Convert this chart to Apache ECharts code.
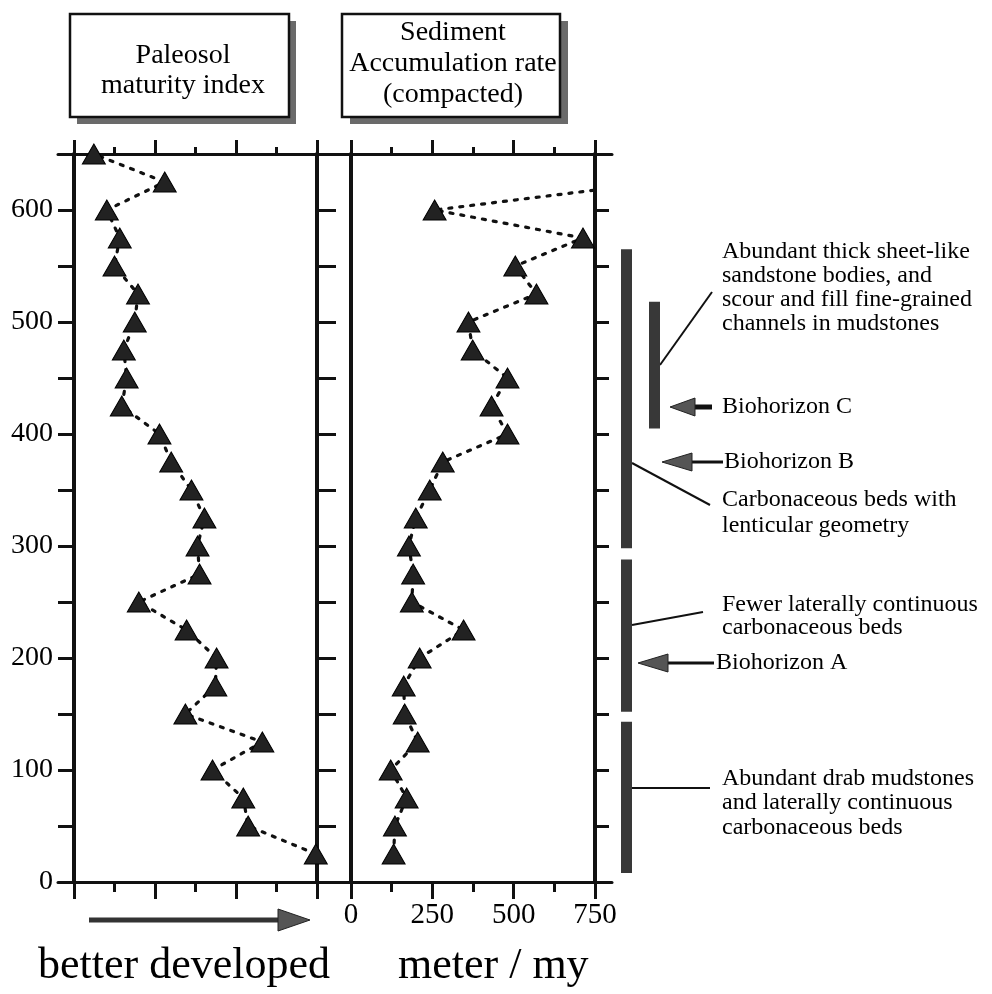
<!DOCTYPE html>
<html><head><meta charset="utf-8">
<script src="https://cdn.jsdelivr.net/npm/echarts@6/dist/echarts.min.js"></script>
<style>html,body{margin:0;padding:0;background:#fff}#c{width:992px;height:994px}</style>
</head><body><div id="c"></div>
<script>
// ---- data ----
const depthsPaleosol = [25,50,75,100,125,150,175,200,225,250,275,300,325,350,375,400,425,450,475,500,525,550,575,600,625,650];
const paleosolIndex  = [5.97,4.3,4.18,3.42,4.65,2.75,3.49,3.52,2.78,1.6,3.1,3.05,3.22,2.9,2.4,2.11,1.18,1.3,1.23,1.5,1.58,1.0,1.13,0.81,2.24,0.49];
const depthsRate = [25,50,75,100,125,150,175,200,225,250,275,300,325,350,375,400,425,450,475,500,525,550,575,600,625];
const accumulationRate = [131,135,171,122,205,165,162,211,346,187,191,178,199,242,282,481,432,481,374,361,570,505,713,257,950];
const depthTickLabels = [0,100,200,300,400,500,600];
const rateTickLabels = [0,250,500,750];
// stratigraphic column units (metres)
const unitColumn = [0,0,0,1];
const unitBase = [298,152,8,405];
const unitTop  = [565,288,143,518];

const FONT = '"Liberation Serif", "Times New Roman", serif';
const INK = '#111';

function hAxis(grid, pos, min, max, interval, majorLen, minorLen, labels){
  return {
    gridIndex: grid, type:'value', position: pos, min: min, max: max, interval: interval,
    axisLine:{show:true, onZero:false, lineStyle:{color:INK, width:3}},
    axisTick:{show:true, length:majorLen, lineStyle:{color:INK, width:3}},
    minorTick:{show:true, splitNumber:2, length:minorLen, lineStyle:{color:INK, width:3}},
    axisLabel: labels ? {show:true, color:'#000', fontFamily:FONT, fontSize:29, margin:19,
      formatter: v => rateTickLabels.includes(v) ? String(v) : ''} : {show:false},
    splitLine:{show:false}, minorSplitLine:{show:false}
  };
}
function vAxis(grid, pos, tickLen, labels){
  return {
    gridIndex: grid, type:'value', position: pos, min:0, max:650, interval:50,
    axisLine:{show:true, onZero:false, lineStyle:{color:INK, width:4}},
    axisTick:{show: tickLen > 0, length:tickLen, lineStyle:{color:INK, width:3}},
    axisLabel: labels ? {show:true, color:'#000', fontFamily:FONT, fontSize:28, margin:21,
      formatter: v => depthTickLabels.includes(v) ? String(v) : ''} : {show:false},
    splitLine:{show:false}
  };
}

const chart = echarts.init(document.getElementById('c'), null, {renderer:'canvas'});
const dotted = {color:INK, width:3.2, type:[3,8], cap:'round'};
const tri = {color:'#222', borderColor:'#000', borderWidth:1};
const TXT = '24px "Liberation Serif"';

chart.setOption({
  animation:false,
  backgroundColor:'#fff',
  grid:[
    {left:74, top:154, width:243, height:728, containLabel:false, outerBoundsMode:'none'},
    {left:351, top:154, width:244, height:728, containLabel:false, outerBoundsMode:'none'},
    {left:58, top:154, width:554, height:728, containLabel:false, outerBoundsMode:'none'},
    {left:600, top:154, width:392, height:728, containLabel:false, outerBoundsMode:'none'}
  ],
  xAxis:[
    hAxis(0,'bottom',0,6,2,17,10,false),
    hAxis(0,'top',0,6,2,14,7,false),
    hAxis(1,'bottom',0,750,250,17,10,true),
    hAxis(1,'top',0,750,250,14,7,false),
    {gridIndex:2, type:'value', position:'bottom', min:0, max:1, axisLine:{show:true,onZero:false,lineStyle:{color:INK,width:3}}, axisTick:{show:false}, axisLabel:{show:false}, splitLine:{show:false}},
    {gridIndex:2, type:'value', position:'top', min:0, max:1, axisLine:{show:true,onZero:false,lineStyle:{color:INK,width:3}}, axisTick:{show:false}, axisLabel:{show:false}, splitLine:{show:false}},
    {gridIndex:3, type:'value', min:0, max:392, show:false}
  ],
  yAxis:[
    vAxis(0,'left',16,true),
    vAxis(0,'right',19,false),
    vAxis(1,'left',0,false),
    vAxis(1,'right',14,false),
    {gridIndex:2, type:'value', min:0, max:1, show:false},
    {gridIndex:3, type:'value', min:0, max:650, show:false}
  ],
  series:[
    {type:'line', xAxisIndex:0, yAxisIndex:0, clip:false,
     data: paleosolIndex.map((v,i)=>[v, depthsPaleosol[i]]),
     symbol:'triangle', symbolSize:[23,20], itemStyle:tri, lineStyle:dotted, z:5},
    {type:'line', xAxisIndex:2, yAxisIndex:2, clip:true,
     data: accumulationRate.map((v,i)=>[v, depthsRate[i]]),
     symbol:'triangle', symbolSize:[23,20], itemStyle:tri, lineStyle:dotted, z:5},
    {type:'custom', xAxisIndex:6, yAxisIndex:5, clip:false,
     data: unitBase.map((b,i)=>[unitColumn[i], b, unitTop[i]]),
     renderItem: function(params, api){
       const col = api.value(0);
       const top = api.coord([0, api.value(2)]);
       const bot = api.coord([0, api.value(1)]);
       const x = col === 0 ? 621 : 649;
       return {type:'rect', shape:{x:x, y:top[1], width:11, height:bot[1]-top[1]}, style:{fill:'#383838'}};
     }}
  ],
  graphic:[
    // header boxes
    {type:'rect', shape:{x:77,y:21,width:219,height:103}, style:{fill:'#6a6a6a'}},
    {type:'rect', shape:{x:70,y:14,width:219,height:103}, style:{fill:'#fff', stroke:INK, lineWidth:2.5}},
    {type:'rect', shape:{x:350,y:21,width:218,height:103}, style:{fill:'#6a6a6a'}},
    {type:'rect', shape:{x:342,y:14,width:218,height:103}, style:{fill:'#fff', stroke:INK, lineWidth:2.5}},
    {type:'text', x:183, y:56, style:{text:'Paleosol', font:'28px "Liberation Serif"', fill:'#000', align:'center', verticalAlign:'middle'}},
    {type:'text', x:183, y:86, style:{text:'maturity index', font:'28px "Liberation Serif"', fill:'#000', align:'center', verticalAlign:'middle'}},
    {type:'text', x:453, y:33, style:{text:'Sediment', font:'28px "Liberation Serif"', fill:'#000', align:'center', verticalAlign:'middle'}},
    {type:'text', x:453, y:64, style:{text:'Accumulation rate', font:'28px "Liberation Serif"', fill:'#000', align:'center', verticalAlign:'middle'}},
    {type:'text', x:453, y:95, style:{text:'(compacted)', font:'28px "Liberation Serif"', fill:'#000', align:'center', verticalAlign:'middle'}},
    // bottom arrow + axis titles
    {type:'line', shape:{x1:89,y1:920,x2:282,y2:920}, style:{stroke:'#333', lineWidth:5}},
    {type:'polygon', shape:{points:[[278,909],[310,920],[278,931]]}, style:{fill:'#555', stroke:'#222', lineWidth:1}},
    {type:'text', x:38, y:966, style:{text:'better developed', font:'44px "Liberation Serif"', fill:'#000', align:'left', verticalAlign:'middle'}},
    {type:'text', x:398, y:966, style:{text:'meter / my', font:'44px "Liberation Serif"', fill:'#000', align:'left', verticalAlign:'middle'}},
    // annotation pointers
    {type:'line', shape:{x1:660,y1:365,x2:712,y2:292}, style:{stroke:INK, lineWidth:2}},
    {type:'line', shape:{x1:632,y1:463,x2:710,y2:505}, style:{stroke:INK, lineWidth:2}},
    {type:'line', shape:{x1:632,y1:625,x2:703,y2:612}, style:{stroke:INK, lineWidth:2}},
    {type:'line', shape:{x1:632,y1:788,x2:710,y2:788}, style:{stroke:INK, lineWidth:2}},
    // biohorizon arrows
    {type:'line', shape:{x1:692,y1:407,x2:712,y2:407}, style:{stroke:INK, lineWidth:5}},
    {type:'polygon', shape:{points:[[670,407],[695,398],[695,416]]}, style:{fill:'#555', stroke:'#222', lineWidth:1}},
    {type:'line', shape:{x1:690,y1:462,x2:723,y2:462}, style:{stroke:INK, lineWidth:3}},
    {type:'polygon', shape:{points:[[662,462],[692,453],[692,471]]}, style:{fill:'#555', stroke:'#222', lineWidth:1}},
    {type:'line', shape:{x1:666,y1:663,x2:714,y2:663}, style:{stroke:INK, lineWidth:3}},
    {type:'polygon', shape:{points:[[638,663],[668,654],[668,672]]}, style:{fill:'#555', stroke:'#222', lineWidth:1}},
    // annotation texts
    {type:'text', x:722, y:240, style:{text:'Abundant thick sheet-like\nsandstone bodies, and\nscour and fill fine-grained\nchannels in mudstones', font:TXT, lineHeight:24, fill:'#000', align:'left', verticalAlign:'top'}},
    {type:'text', x:722, y:407, style:{text:'Biohorizon C', font:TXT, fill:'#000', align:'left', verticalAlign:'middle'}},
    {type:'text', x:724, y:462, style:{text:'Biohorizon B', font:TXT, fill:'#000', align:'left', verticalAlign:'middle'}},
    {type:'text', x:722, y:487, style:{text:'Carbonaceous beds with\nlenticular geometry', font:TXT, lineHeight:26, fill:'#000', align:'left', verticalAlign:'top'}},
    {type:'text', x:722, y:593, style:{text:'Fewer laterally continuous\ncarbonaceous beds', font:TXT, lineHeight:23, fill:'#000', align:'left', verticalAlign:'top'}},
    {type:'text', x:716, y:663, style:{text:'Biohorizon A', font:TXT, fill:'#000', align:'left', verticalAlign:'middle'}},
    {type:'text', x:722, y:766, style:{text:'Abundant drab mudstones\nand laterally continuous\ncarbonaceous beds', font:TXT, lineHeight:24.5, fill:'#000', align:'left', verticalAlign:'top'}}
  ]
});
</script></body></html>
